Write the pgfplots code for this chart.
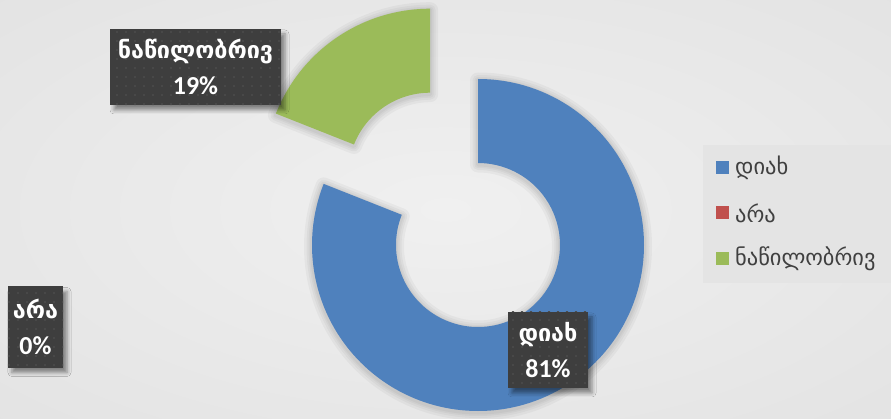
\documentclass[border=0pt]{standalone}
\usepackage{fontspec}
\setmainfont{DejaVu Sans}
\newfontfamily\numfont{Carlito}
\usepackage{pgfplots}
\usepackage{pgfplotstable}
\pgfplotsset{compat=1.18}
\usetikzlibrary{shadows.blur, patterns.meta}

\definecolor{cBlue}{HTML}{4F81BD}
\definecolor{cRed}{HTML}{C0504D}
\definecolor{cGreen}{HTML}{9BBB59}
\definecolor{lblFill}{HTML}{3E3E3E}
\definecolor{lblDot}{HTML}{4A4A4A}
\definecolor{legText}{HTML}{404040}
\definecolor{legFill}{HTML}{E4E4E4}
\definecolor{bgA}{HTML}{F0F0F0}
\definecolor{bgB}{HTML}{E0E0E0}
\definecolor{bgC}{HTML}{CDCDCD}

\pgfdeclareradialshading{bgshade}{\pgfpoint{0bp}{0bp}}{%
  color(0bp)=(bgA); color(45bp)=(bgB); color(72bp)=(bgC)}

% share of answers, percent
\pgfplotstableread{
idx value
0 81
1 0
2 19
}\pietable

\pgfplotstablegetelem{0}{value}\of\pietable \let\vA\pgfplotsretval
\pgfplotstablegetelem{1}{value}\of\pietable \let\vB\pgfplotsretval
\pgfplotstablegetelem{2}{value}\of\pietable \let\vC\pgfplotsretval

\pgfmathsetmacro\aAe{90-3.6*\vA}
\pgfmathsetmacro\aBe{\aAe-3.6*\vB}
\pgfmathsetmacro\aCe{\aBe-3.6*\vC}
\pgfmathsetmacro\aCm{(\aBe+\aCe)/2}
% centre of the ring, and of the exploded slice
\def\cx{478}\def\cy{174}
\pgfmathsetmacro\gx{\cx+85*cos(\aCm)}
\pgfmathsetmacro\gy{\cy+85*sin(\aCm)}

\def\sectorpath#1#2#3#4{%
  ([shift={(#1:166bp)}]axis cs:#3,#4)
    arc[start angle=#1, end angle=#2, radius=166bp]
    -- ([shift={(#2:82bp)}]axis cs:#3,#4)
    arc[start angle=#2, end angle=#1, radius=82bp] -- cycle}
\tikzset{halo/.style={draw=black, opacity=0.035, line width=#1, line join=round,
    yshift=-1.5bp}}
\newcommand\sector[5]{%
  \draw[halo=16bp] \sectorpath{#2}{#3}{#4}{#5};
  \draw[halo=11bp] \sectorpath{#2}{#3}{#4}{#5};
  \draw[halo=7bp] \sectorpath{#2}{#3}{#4}{#5};
  \draw[halo=4bp] \sectorpath{#2}{#3}{#4}{#5};
  \fill[#1] \sectorpath{#2}{#3}{#4}{#5};}

\tikzset{lblbox/.style={fill=lblFill, text=white, align=center, inner sep=0pt,
    font=\fontsize{24}{36}\selectfont,
    postaction={pattern={Dots[radius=1.3bp, distance=9bp]}, pattern color=lblDot},
    blur shadow={shadow xshift=4bp, shadow yshift=-5bp, shadow blur radius=4bp,
      shadow opacity=45}}}
\newcommand\geo{\fontsize{23.5}{36}\selectfont\bfseries}
\newcommand\pct{\numfont\fontsize{26}{36}\selectfont\bfseries}

\begin{document}
\begin{tikzpicture}
\useasboundingbox (0,0) rectangle (891bp,419bp);
\shade[shading=bgshade] (0,0) rectangle (891bp,419bp);
\begin{axis}[
    at={(0,0)}, anchor=south west,
    x=1bp, y=1bp, disabledatascaling,
    xmin=0, xmax=891, ymin=0, ymax=419,
    hide axis, clip=false,
  ]
  \sector{cBlue}{90}{\aAe}{\cx}{\cy}
  \sector{cGreen}{\aBe}{\aCe}{\gx}{\gy}

  % data labels
  \node[lblbox, minimum width=171bp, minimum height=76bp]
    at (axis cs:195.5,352) {{\geo ნაწილობრივ}\\{\pct \vC\%}};
  \node[lblbox, minimum width=80bp, minimum height=76bp]
    at (axis cs:548,69) {{\geo დიახ}\\{\pct \vA\%}};
  \node[lblbox, minimum width=55bp, minimum height=81bp]
    at (axis cs:35.5,92) {{\geo არა}\\{\pct \vB\%}};

  % legend
  \fill[legFill] (axis cs:703,136) rectangle (axis cs:891,274);
  \fill[cBlue]  (axis cs:716,244.5) rectangle (axis cs:729,257.5);
  \fill[cRed]   (axis cs:716,199.5) rectangle (axis cs:729,212.5);
  \fill[cGreen] (axis cs:716,154)   rectangle (axis cs:729,167);
  \begin{scope}[every node/.style={anchor=west, text=legText, inner sep=0pt,
      font=\fontsize{22.5}{26}\selectfont}]
    \node at (axis cs:735,251) {დიახ};
    \node at (axis cs:735,206) {არა};
    \node at (axis cs:735,160.5) {ნაწილობრივ};
  \end{scope}
\end{axis}
\end{tikzpicture}
\end{document}
